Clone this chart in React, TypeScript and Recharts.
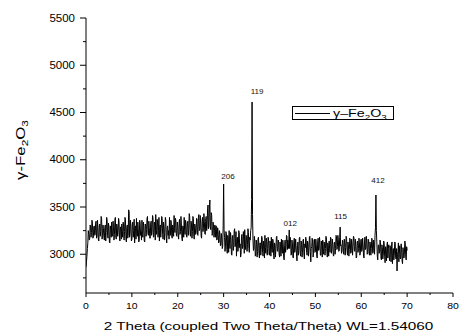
import React from 'react';
import { ComposedChart, Line, XAxis, YAxis, Legend, ReferenceDot } from 'recharts';

const FONT = '"Liberation Sans", Arial, Helvetica, sans-serif';

const intensity: number[] = [
  2865, 2920, 2980, 3060, 3120, 3250, 3210, 3150, 3160, 3310, 3290, 3180, 3230, 3360, 3330, 3170, 3180, 3290, 3300, 3200,
  3210, 3330, 3350, 3170, 3190, 3360, 3280, 3150, 3140, 3300, 3320, 3190, 3240, 3400, 3380, 3160, 3200, 3310, 3270, 3180,
  3150, 3280, 3310, 3140, 3230, 3390, 3360, 3200, 3170, 3330, 3290, 3130, 3120, 3300, 3260, 3180, 3340, 3200, 3190, 3350,
  3280, 3150, 3210, 3370, 3390, 3180, 3160, 3320, 3300, 3190, 3230, 3380, 3350, 3170, 3140, 3290, 3270, 3160, 3320, 3240,
  3180, 3340, 3290, 3150, 3240, 3390, 3370, 3160, 3130, 3290, 3310, 3170, 3200, 3470, 3450, 3180, 3220, 3360, 3300, 3140,
  3160, 3310, 3340, 3180, 3250, 3370, 3120, 3260, 3300, 3160, 3380, 3210, 3190, 3340, 3270, 3130, 3150, 3360, 3330, 3200,
  3240, 3150, 3360, 3210, 3180, 3340, 3290, 3140, 3130, 3320, 3310, 3190, 3260, 3380, 3400, 3220, 3200, 3350, 3280, 3170,
  3170, 3320, 3350, 3200, 3230, 3410, 3390, 3180, 3190, 3340, 3300, 3150, 3420, 3260, 3210, 3370, 3340, 3180, 3250, 3390,
  3140, 3290, 3310, 3180, 3270, 3400, 3380, 3210, 3160, 3340, 3290, 3150, 3230, 3390, 3360, 3170, 3120, 3280, 3300, 3200,
  3250, 3160, 3390, 3240, 3200, 3360, 3330, 3180, 3170, 3310, 3280, 3190, 3410, 3270, 3230, 3380, 3350, 3200, 3190, 3340,
  3300, 3190, 3160, 3340, 3370, 3210, 3240, 3400, 3310, 3170, 3140, 3300, 3290, 3180, 3390, 3250, 3210, 3360, 3330, 3190,
  3180, 3330, 3350, 3200, 3260, 3430, 3400, 3210, 3190, 3350, 3310, 3170, 3240, 3400, 3380, 3190, 3160, 3320, 3300, 3210,
  3230, 3380, 3370, 3210, 3200, 3390, 3420, 3250, 3260, 3410, 3330, 3190, 3170, 3350, 3390, 3240, 3280, 3430, 3350, 3220,
  3210, 3380, 3400, 3250, 3290, 3480, 3521, 3270, 3300, 3500, 3574, 3290, 3260, 3440, 3410, 3200, 3220, 3340, 3300, 3180,
  3250, 3310, 3180, 3290, 3300, 3150, 3160, 3280, 3240, 3120, 3130, 3250, 3210, 3090, 3100, 3220, 3170, 3060, 3080, 3300,
  3743, 3260, 3180, 3030, 3080, 3240, 3220, 3050, 3010, 3200, 3160, 3020, 3250, 3110, 3060, 3230, 3190, 3000, 2990, 3170,
  3200, 3040, 3090, 3250, 3270, 3080, 3120, 3240, 2980, 3150, 3180, 3030, 3060, 3250, 3230, 3070, 3110, 2970, 3000, 3190,
  3210, 3060, 3080, 3240, 3160, 3010, 3260, 3120, 3050, 3200, 3190, 3030, 3100, 3270, 3230, 3060, 3020, 3180, 3150, 3250,
  3280, 3580, 4611, 3420, 3150, 3040, 3060, 3190, 3140, 2980, 2990, 3150, 3110, 2970, 3030, 3170, 3180, 3010, 2960, 3120,
  3120, 2990, 3050, 3190, 3170, 3020, 2980, 3140, 3090, 2960, 3200, 3070, 3010, 3170, 3130, 2990, 3060, 3180, 3150, 3000,
  2990, 3140, 3110, 2980, 3180, 3050, 3020, 3160, 3140, 2990, 2950, 3120, 3100, 2970, 3060, 3180, 3190, 3040, 3030, 3150,
  3120, 3000, 2970, 3130, 3080, 2980, 3160, 3040, 3010, 3150, 3100, 2960, 2940, 3090, 3150, 3020, 3060, 3200, 3190, 3050,
  3150, 3060, 3120, 3257, 3060, 3180, 3140, 2990, 3000, 3150, 3110, 2970, 2960, 3130, 3170, 3020, 3050, 3160, 3090, 2980,
  2930, 3090, 3130, 2990, 3040, 3170, 3180, 3010, 2980, 3140, 3100, 2970, 3020, 3150, 3160, 3000, 2950, 3110, 3070, 3180,
  3150, 3020, 2990, 3140, 3110, 2980, 3040, 3180, 3190, 3030, 2920, 3060, 3080, 3170, 3130, 2970, 3010, 3150, 3160, 3020,
  3030, 3160, 3100, 2980, 2960, 3130, 3170, 3040, 3050, 3180, 3120, 2990, 2990, 3140, 3090, 2970, 3150, 3060, 3000, 3130,
  3110, 2990, 3060, 3190, 3180, 3030, 2970, 3120, 3090, 2980, 3140, 3060, 3020, 3180, 3170, 3010, 3050, 3160, 3100, 2990,
  2980, 3120, 3130, 3000, 3060, 3200, 3190, 3050, 3080, 3200, 3160, 3030, 3040, 3180, 3288, 3090, 3100, 3010, 3030, 3150,
  3140, 3030, 3000, 3160, 3120, 2990, 3070, 3190, 3170, 3040, 2990, 3130, 3100, 2980, 3050, 3170, 3150, 3010, 3020, 3160,
  3110, 2990, 3080, 3190, 3180, 3040, 3030, 3160, 3090, 2960, 2970, 3130, 3140, 3020, 3060, 3170, 3120, 2990, 3010, 3150,
  3160, 3030, 3050, 3170, 3100, 2980, 2960, 3120, 3180, 3050, 3070, 3190, 3130, 3000, 3020, 3160, 3150, 3010, 2990, 3130,
  3100, 2990, 3060, 3170, 3140, 3010, 3020, 3150, 3110, 3000, 3200, 3280, 3627, 3250, 3120, 2980, 2940, 3090, 3100, 3010,
  3030, 3150, 3120, 2960, 2940, 3100, 3070, 2950, 2990, 3140, 3110, 2980, 2910, 3080, 3050, 2930, 3090, 3130, 2960, 3060,
  3100, 2970, 2930, 3090, 3040, 2920, 3080, 3130, 2900, 3010, 3060, 2940, 2990, 3130, 3120, 2970, 2950, 3060, 2823, 3000,
  3030, 3120, 2920, 3010, 3090, 2950, 2960, 3110, 3050, 2930, 2900, 3070, 3020, 2960, 3000, 3140, 3110, 2970, 2940, 3080,
  3040,
];
const STEP = 0.1;
const twoTheta = intensity.map((_, i) => Math.round(i * STEP * 10) / 10);
const data = twoTheta.map((t, i) => ({ theta: t, counts: intensity[i] }));

const xTicks = [0, 5, 10, 15, 20, 25, 30, 35, 40, 45, 50, 55, 60, 65, 70, 75, 80];
const xTickLabels = [0, 10, 20, 30, 40, 50, 60, 70, 80];
const yTicks = [2750, 3000, 3250, 3500, 3750, 4000, 4250, 4500, 4750, 5000, 5250, 5500];
const yTickLabels = [3000, 3500, 4000, 4500, 5000, 5500];

const peakLabels = ['206', '119', '012', '115', '412'];
const peakTheta = [30.95, 37.3, 44.5, 55.5, 63.65];
const peakLabelCounts = [3796, 4700, 3299, 3368, 3754];

function XTick(props: any) {
  const { x, y, payload } = props;
  const v = payload.value;
  const major = xTickLabels.includes(v);
  return (
    <g>
      <line x1={x} x2={x} y1={y} y2={y + (major ? 4 : 2)} stroke="#000" strokeWidth={1} />
      {major && (
        <text
          transform={`translate(${x},${y + 15.5}) scale(1.1,1)`}
          textAnchor="middle"
          fontSize={9.5}
          fontFamily={FONT}
          fill="#000"
        >
          {v}
        </text>
      )}
    </g>
  );
}

function YTick(props: any) {
  const { x, y, payload } = props;
  const v = payload.value;
  const major = yTickLabels.includes(v);
  return (
    <g>
      <line x1={x - (major ? 6 : 3)} x2={x} y1={y} y2={y} stroke="#000" strokeWidth={1} />
      {major && (
        <text
          transform={`translate(${x - 11},${y + 3.6}) scale(1.15,1)`}
          textAnchor="end"
          fontSize={10}
          fontFamily={FONT}
          fill="#000"
        >
          {v}
        </text>
      )}
    </g>
  );
}

function XTitle() {
  return (
    <text
      transform="translate(268.5,330) scale(1.32,1)"
      textAnchor="middle"
      fontSize={11.6}
      fontFamily={FONT}
      fill="#000"
    >
      2 Theta (coupled Two Theta/Theta) WL=1.54060
    </text>
  );
}

function YTitle() {
  return (
    <text
      transform="translate(25,150) rotate(-90) scale(1.4,1)"
      textAnchor="middle"
      fontSize={12}
      fontFamily={FONT}
      fill="#000"
    >
      γ-Fe<tspan fontSize={8.5} dy={3}>2</tspan>
      <tspan dy={-3}>O</tspan>
      <tspan fontSize={8.5} dy={3}>3</tspan>
    </text>
  );
}

function LegendBox() {
  return (
    <svg width={103} height={15} style={{ display: 'block' }}>
      <rect x={0.5} y={0.5} width={101} height={13} fill="#fff" stroke="#000" strokeWidth={1} />
      <line x1={3} x2={38} y1={7.5} y2={7.5} stroke="#000" strokeWidth={1} />
      <text transform="translate(41,11) scale(1.3,1)" fontSize={11} fontFamily={FONT} fill="#000">
        γ–Fe<tspan fontSize={7.5} dy={2.5}>2</tspan>
        <tspan dy={-2.5}>O</tspan>
        <tspan fontSize={7.5} dy={2.5}>3</tspan>
      </text>
    </svg>
  );
}

function PeakLabel(props: any) {
  const { cx, cy, label } = props;
  return (
    <text
      transform={`translate(${cx},${cy}) scale(1.15,1)`}
      textAnchor="middle"
      fontSize={7}
      fontFamily={FONT}
      fill="#111"
    >
      {label}
    </text>
  );
}

export default function App() {
  return (
    <div style={{ position: 'absolute', left: 0, top: 0, width: 459, height: 334, background: '#fff' }}>
      <ComposedChart
        width={459}
        height={334}
        data={data}
        margin={{ top: 18, right: 6, bottom: 0, left: 0 }}
      >
        <XAxis
          dataKey="theta"
          type="number"
          domain={[0, 80]}
          ticks={xTicks}
          interval={0}
          allowDataOverflow
          height={41}
          tickSize={0}
          tickMargin={0}
          tickLine={false}
          axisLine={{ stroke: '#000', strokeWidth: 1 }}
          tick={<XTick />}
          label={<XTitle />}
        />
        <YAxis
          dataKey="counts"
          type="number"
          domain={[2590, 5500]}
          ticks={yTicks}
          interval={0}
          allowDataOverflow
          width={86}
          tickSize={0}
          tickMargin={0}
          tickLine={false}
          axisLine={{ stroke: '#000', strokeWidth: 1 }}
          tick={<YTick />}
          label={<YTitle />}
        />
        <Legend
          layout="vertical"
          align="center"
          verticalAlign="middle"
          content={() => <LegendBox />}
          wrapperStyle={{ position: 'absolute', left: 292, top: 106, width: 103, height: 15 }}
        />
        <Line
          name="γ-Fe2O3"
          type="linear"
          dataKey="counts"
          stroke="#000"
          strokeWidth={1}
          dot={false}
          activeDot={false}
          isAnimationActive={false}
        />
        {peakLabels.map((lab, i) => (
          <ReferenceDot
            key={lab}
            x={peakTheta[i]}
            y={peakLabelCounts[i]}
            r={0}
            shape={(p: any) => <PeakLabel {...p} label={lab} />}
          />
        ))}
      </ComposedChart>
    </div>
  );
}
